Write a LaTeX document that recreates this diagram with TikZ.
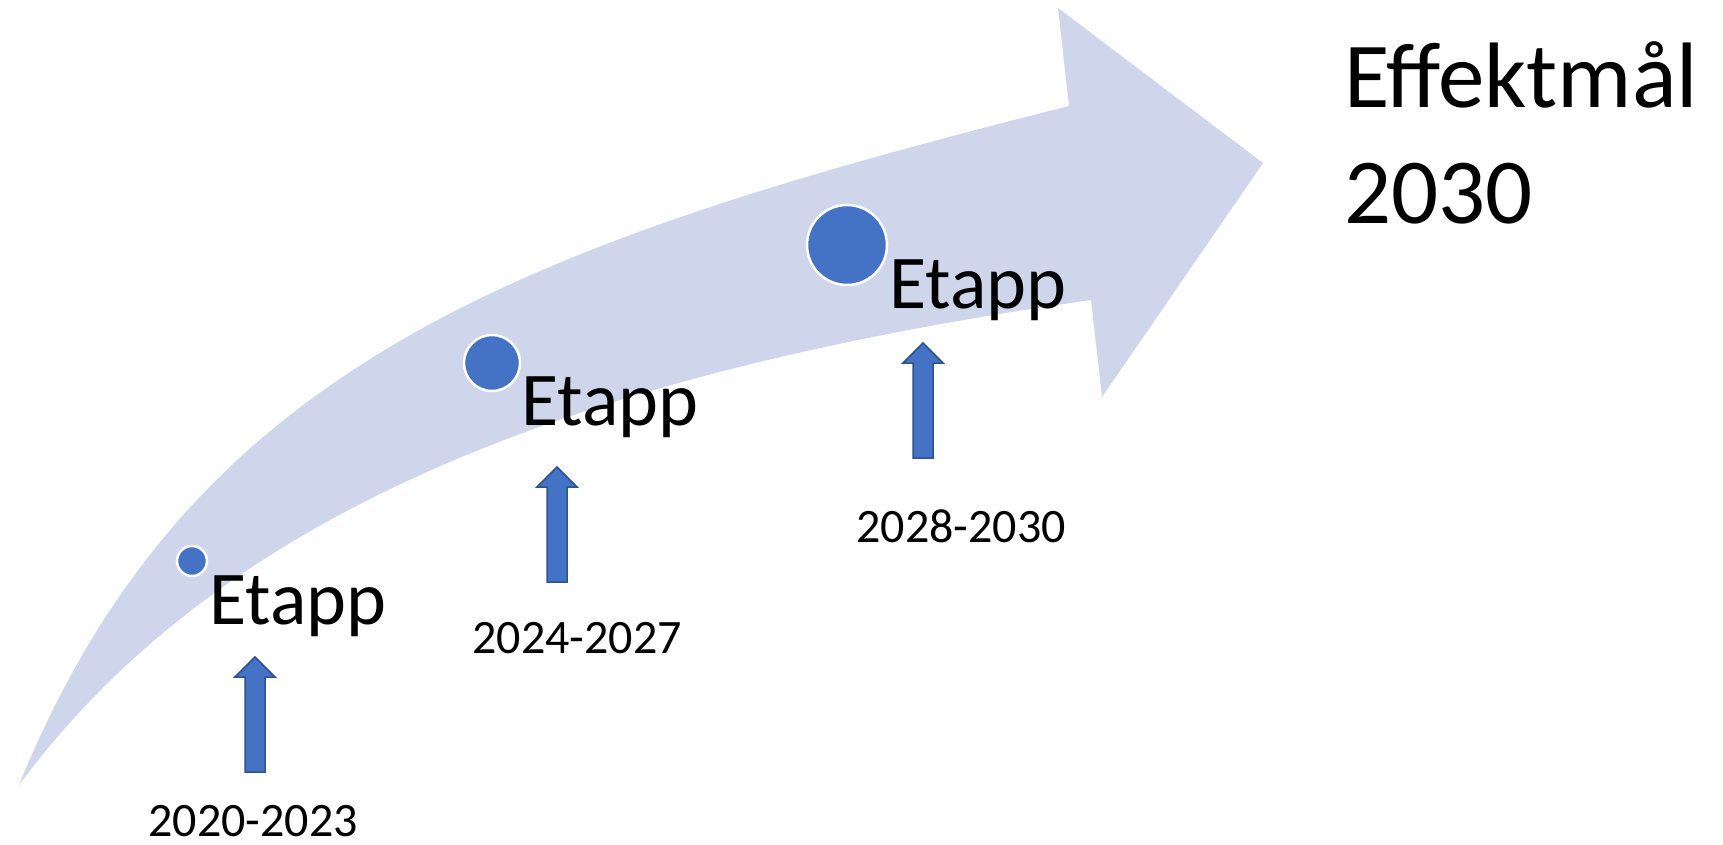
\documentclass[tikz,border=0pt]{standalone}
\usepackage{fontspec}
\setmainfont{Carlito}
\usetikzlibrary{positioning}
\definecolor{bandfill}{RGB}{207,213,234}
\definecolor{dotblue}{RGB}{68,114,196}
\definecolor{dotedge}{RGB}{47,82,143}

\begin{document}
\begin{tikzpicture}[
  x=1pt, y=-1pt,
  dot/.style={
    circle,
    fill=dotblue,
    draw=white,
    line width=2.5pt,
    inner sep=0pt
  },
  etapp/.style={anchor=base west, inner sep=0pt, font=\fontsize{76}{90}\selectfont},
  years/.style={anchor=base, inner sep=0pt, font=\fontsize{48}{58}\selectfont},
  goal/.style={anchor=base west, inner sep=0pt, font=\fontsize{93}{116}\selectfont},
  uparrow/.pic={
    \draw[fill=dotblue, draw=dotedge, line width=1.5pt]
      (0,0) -- (20,20) -- (10,20) -- (10,115) -- (-10,115) -- (-10,20) -- (-20,20) -- cycle;
  }
]
\useasboundingbox (0,0) rectangle (1723,844);

% the wide curved arrow
\fill[bandfill] (19,785) .. controls (190,365) and (518,245) .. (1069,106)
  -- (1058,8) -- (1263,163) -- (1102,397) -- (1091,300)
  .. controls (600,370) and (230,500) .. (19,785) -- cycle;

% stages
\node[dot, minimum size=30pt] (dot1) at (192,561) {};
\node[dot, minimum size=56pt] (dot2) at (492,363) {};
\node[dot, minimum size=80pt] (dot3) at (847,245) {};

\node[etapp] (etapp1) at (209,624) {Etapp};
\node[etapp] (etapp2) at (521,425) {Etapp};
\node[etapp] (etapp3) at (889,308) {Etapp};

\pic at (255,657) {uparrow};
\pic at (557,467) {uparrow};
\pic at (923,343) {uparrow};

\node[years] (yr1) at (253,836) {2020-2023};
\node[years] (yr2) at (577,653) {2024-2027};
\node[years] (yr3) at (961,542) {2028-2030};

% goal
\node[goal] (goal) at (1344,107) {Effektmål};
\node[goal] (goalyear) at (1344,223) {2030};
\end{tikzpicture}
\end{document}
